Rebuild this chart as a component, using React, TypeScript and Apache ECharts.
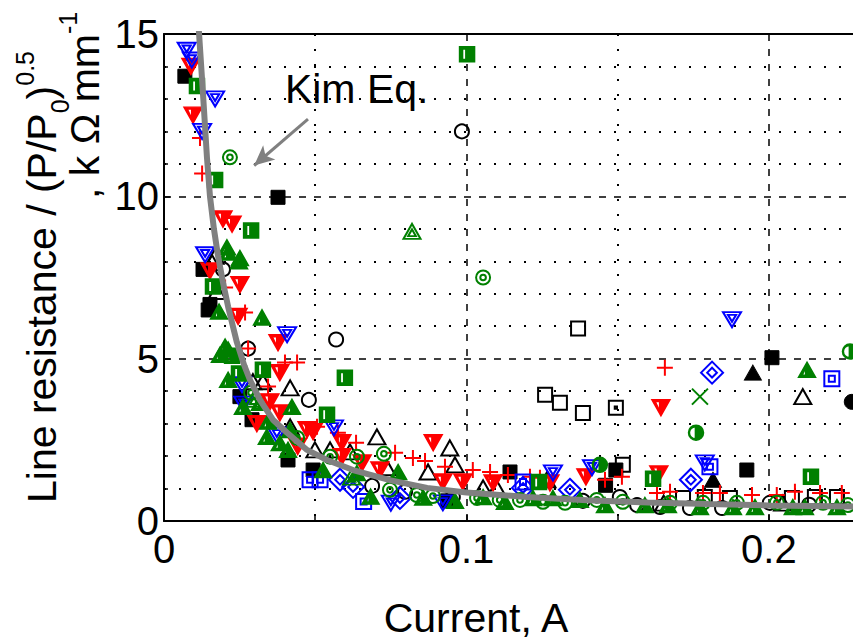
import React, { useEffect, useRef } from 'react';
import * as echarts from 'echarts';

// ---- data (Current [A], Line resistance / (P/P0)^0.5 [kΩ/mm]) ----
const kimCurve: [number, number][] = [
  [0.0112, 15.6], [0.0116, 15], [0.013, 13], [0.0142, 11.2], [0.0152, 10], [0.0165, 9], [0.0178, 8.2],
  [0.0196, 7.3], [0.0212, 6.6], [0.0241, 5.5], [0.0265, 4.8], [0.0284, 4.35], [0.0317, 3.73],
  [0.036, 3.12], [0.0407, 2.72], [0.0473, 2.19], [0.0539, 1.88], [0.0625, 1.57], [0.075, 1.25],
  [0.087, 1.02], [0.1, 0.88], [0.12, 0.74], [0.14, 0.64], [0.16, 0.57], [0.18, 0.52], [0.2, 0.48], [0.23, 0.44],
];

const blackFilledSquares: [number, number][] = [
  [0.0069, 13.7], [0.0377, 9.97], [0.0129, 7.75], [0.0152, 6.67], [0.0146, 6.5], [0.0251, 3.83],
  [0.0291, 3.12], [0.041, 1.88], [0.0493, 1.57], [0.201, 5.03], [0.1494, 1.57], [0.1144, 1.51],
  [0.1927, 1.57], [0.0938, 0.62], [0.146, 1.1],
];
const blackOpenCircles: [number, number][] = [
  [0.0985, 12.0], [0.0195, 7.75], [0.0569, 5.59], [0.0278, 5.31], [0.0479, 3.73], [0.0688, 1.08],
  [0.0797, 0.9], [0.0955, 0.74], [0.1507, 0.74], [0.1564, 0.49], [0.164, 0.43], [0.1739, 0.4],
  [0.1845, 0.4], [0.2003, 0.56], [0.1385, 0.62], [0.2133, 0.5],
];
const blackOpenTriangles: [number, number][] = [
  [0.0169, 8.15], [0.0159, 7.96], [0.0175, 7.07], [0.0294, 4.29], [0.0327, 4.29], [0.0417, 4.1],
  [0.0417, 2.9], [0.0704, 2.59], [0.0945, 2.25], [0.0962, 1.73], [0.0499, 2.19], [0.0549, 2.19],
  [0.0615, 2.13], [0.0737, 1.64], [0.0873, 1.51], [0.1055, 1.02], [0.11, 1.02], [0.1266, 1.27],
  [0.2112, 3.83], [0.1652, 0.55], [0.2045, 0.55],
];
const blackOpenSquares: [number, number][] = [
  [0.1369, 5.93], [0.126, 3.89], [0.1309, 3.64], [0.1385, 3.33], [0.1517, 1.73], [0.1716, 0.71],
  [0.1788, 0.74], [0.1871, 0.71], [0.2076, 0.71], [0.2152, 0.74], [0.2225, 0.74],
];
const blackDotSquares: [number, number][] = [[0.1494, 3.49]];
const blackFilledTriangles: [number, number][] = [[0.1947, 4.57], [0.1815, 1.27]];
const blackFilledCircles: [number, number][] = [[0.2274, 3.67]];

const redPluses: [number, number][] = [
  [0.0119, 11.8], [0.0126, 10.7], [0.0202, 7.19], [0.0268, 6.42], [0.0278, 5.31], [0.04, 4.88],
  [0.044, 4.88], [0.0344, 4.14], [0.0506, 2.9], [0.0575, 2.72], [0.0635, 2.41], [0.0764, 2.1],
  [0.0823, 1.94], [0.0863, 1.85], [0.0929, 1.67], [0.1021, 1.57], [0.1078, 1.51], [0.1656, 4.72],
  [0.1137, 1.42], [0.121, 1.36], [0.1243, 1.33], [0.1458, 1.27], [0.1514, 1.36], [0.163, 0.86],
  [0.1673, 0.9], [0.1782, 0.86], [0.1838, 0.86], [0.1944, 0.8], [0.2026, 0.8], [0.2086, 0.9],
  [0.2169, 0.86], [0.2241, 0.86],
];
const redDownTriangles: [number, number][] = [
  [0.0089, 14.0], [0.0096, 12.5], [0.0195, 9.3], [0.0225, 9.14], [0.0152, 7.7], [0.0251, 7.28],
  [0.0245, 6.3], [0.0377, 5.49], [0.0383, 4.57], [0.035, 3.67], [0.0383, 3.33], [0.0473, 2.81],
  [0.0493, 2.75], [0.0588, 2.41], [0.089, 2.41], [0.0588, 1.98], [0.0655, 1.79], [0.0714, 1.57],
  [0.0922, 1.2], [0.0988, 1.2], [0.1088, 1.17], [0.1643, 3.49], [0.1636, 1.45], [0.1395, 1.36],
  [0.1276, 1.17], [0.0307, 3.0], [0.0442, 2.3],
];

const blueDownTriangles: [number, number][] = [
  [0.0075, 14.5], [0.0092, 14.2], [0.0169, 13.0], [0.0126, 12.0], [0.0136, 8.2], [0.0407, 5.74],
  [0.0258, 4.2], [0.0373, 2.65], [0.0562, 2.87], [0.1878, 6.2], [0.1286, 1.48], [0.1415, 1.64],
  [0.1788, 1.79], [0.075, 0.55], [0.0922, 0.56], [0.0262, 3.6],
];
const blueSquares: [number, number][] = [
  [0.0483, 1.27], [0.0516, 1.27], [0.2208, 4.38], [0.1805, 1.67], [0.1187, 1.2], [0.066, 0.6],
];
const blueDiamonds: [number, number][] = [
  [0.0582, 1.27], [0.0625, 1.05], [0.1812, 4.57], [0.1742, 1.27], [0.1342, 0.96], [0.1187, 1.02], [0.078, 0.71],
];

const greenDoubleCircles: [number, number][] = [
  [0.0218, 11.2], [0.1055, 7.5], [0.0288, 3.95], [0.044, 2.56], [0.0638, 1.98], [0.0727, 2.07],
  [0.0549, 1.98], [0.0747, 0.96], [0.0836, 0.8], [0.0889, 0.77], [0.1035, 0.71], [0.111, 0.65],
  [0.1177, 0.65], [0.1253, 0.59], [0.1326, 0.56], [0.1431, 0.65], [0.1517, 0.59], [0.1673, 0.56],
  [0.1782, 0.56], [0.1894, 0.56], [0.2026, 0.56], [0.2179, 0.56], [0.2261, 0.49],
];
const greenHalfSquares: [number, number][] = [
  [0.1002, 14.38], [0.0109, 13.4], [0.0169, 10.5], [0.0288, 8.95], [0.0162, 7.22], [0.0225, 5.09],
  [0.0327, 4.66], [0.0598, 4.41], [0.0248, 4.54], [0.0539, 3.27], [0.1617, 1.3], [0.2139, 1.36], [0.124, 1.2],
];
const greenHalfTriangles: [number, number][] = [
  [0.0208, 8.43], [0.0251, 8.1], [0.0248, 8.0], [0.0212, 8.27], [0.0182, 6.45], [0.0324, 6.27],
  [0.0202, 5.37], [0.0185, 5.12], [0.0212, 5.28], [0.0212, 4.35], [0.0261, 3.52], [0.0317, 3.64],
  [0.0423, 3.52], [0.0344, 3.06], [0.034, 2.59], [0.0383, 2.4], [0.0417, 2.8], [0.041, 2.19],
  [0.0526, 1.57], [0.0638, 1.48], [0.0774, 1.51], [0.1055, 0.74], [0.1127, 0.59], [0.122, 0.71],
  [0.1286, 0.71], [0.1375, 0.65], [0.1458, 0.49], [0.159, 0.49], [0.1666, 0.49], [0.1772, 0.43],
  [0.1881, 0.43], [0.1954, 0.43], [0.2079, 0.43], [0.2119, 0.43], [0.2225, 0.43], [0.2126, 4.66],
  [0.0683, 0.75], [0.0857, 0.72], [0.0962, 0.62],
];
const greenDoubleTriangles: [number, number][] = [[0.082, 8.92], [0.0195, 5.2], [0.0297, 3.75], [0.062, 1.35]];
const greenCrosses: [number, number][] = [[0.1772, 3.83]];
const greenHalfCircles: [number, number][] = [[0.2268, 5.22], [0.1759, 2.72], [0.1441, 1.73]];

const kimLabelAt: [number, number] = [0.0398, 13.3];
const kimArrowFrom: [number, number] = [0.0476, 12.38];
const kimArrowTo: [number, number] = [0.0298, 10.95];

const xTickLabels = ['0', '0.1', '0.2'];
const X_MAX = 0.2278; // right edge of the visible plot

// ---- marker shapes ----
const P_TRI_DOWN_HALF = 'path://M0 0 L10 0 L5 10 Z M1.8 1.2 L4.3 7.2 L4.3 1.2 Z';
const P_TRI_UP_HALF = 'path://M5 0 L10 10 L0 10 Z M4.2 3.5 L2.2 8.6 L4.2 8.6 Z';
const P_SQ_HALF = 'path://M0 0 L10 0 L10 10 L0 10 Z M2 1.5 L2 8.5 L4.2 8.5 L4.2 1.5 Z';
const P_CIRC_HALF = 'path://M5 0 A5 5 0 1 1 5 10 A5 5 0 1 1 5 0 Z M4.6 9 L4.6 1 A4 4 0 0 0 4.6 9 Z';
const P_DBL_TRI_DOWN = 'path://M0 0 L10 0 L5 10 Z M2.75 1.83 L7.25 1.83 L5 6.33 Z';
const P_DBL_TRI_UP = 'path://M5 0 L10 10 L0 10 Z M5 3.67 L7.25 8.17 L2.75 8.17 Z';
const P_DBL_SQ = 'path://M0 0 L10 0 L10 10 L0 10 Z M3 3 L7 3 L7 7 L3 7 Z';
const P_DBL_DIAMOND = 'path://M5 0 L10 5 L5 10 L0 5 Z M5 2.8 L7.2 5 L5 7.2 L2.8 5 Z';
const P_DBL_CIRC = 'path://M5 0 A5 5 0 1 1 5 10 A5 5 0 1 1 5 0 Z M5 3 A2 2 0 1 1 5 7 A2 2 0 1 1 5 3 Z';
const P_SQ_DOT = 'path://M0 0 L10 0 L10 10 L0 10 Z M4.2 4.2 L5.8 4.2 L5.8 5.8 L4.2 5.8 Z';
const P_PLUS = 'path://M5 0 L5 10 M0 5 L10 5';
const P_CROSS = 'path://M0 0 L10 10 M10 0 L0 10';

const BLACK = '#000000';
const RED = '#ff0000';
const BLUE = '#0000ff';
const GREEN = '#008000';
const GRAY = '#808080';
const CLEAR = 'rgba(0,0,0,0)';
const FONT = 'Arial, "Liberation Sans", Helvetica, sans-serif';

function scatter(name: string, data: [number, number][], symbol: string, size: number | number[], color: string, filled: boolean, bw = 2) {
  return {
    type: 'scatter',
    name,
    data,
    symbol,
    symbolSize: size,
    silent: true,
    xAxisIndex: 0,
    yAxisIndex: 0,
    itemStyle: { color: filled ? color : CLEAR, borderColor: color, borderWidth: bw, opacity: 1 },
    z: 3,
  };
}

export default function App() {
  const ref = useRef<HTMLDivElement>(null);
  useEffect(() => {
    if (!ref.current) return;
    const chart = echarts.init(ref.current, null, { renderer: 'svg' });
    const option: any = {
      animation: false,
      backgroundColor: '#ffffff',
      grid: { left: 164, top: 34, right: 0, bottom: 121, show: false },
      xAxis: [
        {
          // bottom axis: ticks every 0.05, labels at 0.1 steps, dotted lines at the half steps
          type: 'value', min: 0, max: X_MAX, interval: 0.05, position: 'bottom',
          axisLine: { show: true, onZero: false, lineStyle: { color: BLACK, width: 2 } },
          axisTick: { show: true, inside: true, length: 6, lineStyle: { color: BLACK, width: 1.5 } },
          splitLine: {
            show: true,
            lineStyle: { color: [CLEAR, BLACK, CLEAR, BLACK, CLEAR, CLEAR], width: 2, type: [2, 13] },
          },
          axisLabel: {
            fontSize: 40, fontFamily: FONT, color: BLACK, margin: 8, showMaxLabel: false,
            formatter: (v: number) => {
              const k = Math.round(v * 10);
              return Math.abs(v * 10 - k) < 1e-6 ? (xTickLabels[k] ?? '') : '';
            },
          },
        },
        {
          // top axis: the top border and the dashed major grid lines
          type: 'value', min: 0, max: X_MAX, interval: 0.1, position: 'top',
          axisLine: { show: true, onZero: false, lineStyle: { color: BLACK, width: 2 } },
          axisTick: { show: false },
          axisLabel: { show: false },
          splitLine: { show: true, lineStyle: { color: [BLACK, BLACK, BLACK, CLEAR], width: 1.5, type: [7, 8] } },
        },
      ],
      yAxis: {
        type: 'value', min: 0, max: 15, interval: 5,
        axisLine: { show: true, onZero: false, lineStyle: { color: BLACK, width: 2 } },
        axisTick: { show: true, inside: true, length: 6, lineStyle: { color: BLACK, width: 1.5 } },
        minorTick: { show: true, splitNumber: 5, length: 4, lineStyle: { color: BLACK, width: 1.5 } },
        splitLine: { show: true, lineStyle: { color: BLACK, width: 1.5, type: [7, 8] } },
        minorSplitLine: { show: true, lineStyle: { color: BLACK, width: 2, type: [2, 13] } },
        axisLabel: { fontSize: 40, fontFamily: FONT, color: BLACK, margin: 5 },
      },
      series: [
        scatter('black filled square', blackFilledSquares, 'rect', 14, BLACK, true, 1),
        scatter('black circle', blackOpenCircles, 'circle', 14, BLACK, false),
        scatter('black triangle', blackOpenTriangles, 'triangle', [17, 15], BLACK, false),
        scatter('black square', blackOpenSquares, 'rect', 14, BLACK, false),
        scatter('black dotted square', blackDotSquares, P_SQ_DOT, 14, BLACK, false),
        scatter('black filled triangle', blackFilledTriangles, 'triangle', [17, 15], BLACK, true, 1),
        scatter('black filled circle', blackFilledCircles, 'circle', 15, BLACK, true, 1),
        scatter('red plus', redPluses, P_PLUS, 16, RED, false, 2),
        scatter('red triangle', redDownTriangles, P_TRI_DOWN_HALF, [18, 16], RED, true, 1.5),
        scatter('blue triangle', blueDownTriangles, P_DBL_TRI_DOWN, [18, 15], BLUE, false, 2),
        scatter('blue square', blueSquares, P_DBL_SQ, 15, BLUE, false, 2),
        scatter('blue diamond', blueDiamonds, P_DBL_DIAMOND, [22, 22], BLUE, false, 2),
        scatter('green circle', greenDoubleCircles, P_DBL_CIRC, 14, GREEN, false, 2),
        scatter('green square', greenHalfSquares, P_SQ_HALF, 15, GREEN, true, 1.5),
        scatter('green triangle', greenHalfTriangles, P_TRI_UP_HALF, [17, 15], GREEN, true, 1.5),
        scatter('green double triangle', greenDoubleTriangles, P_DBL_TRI_UP, [17, 15], GREEN, false, 2),
        scatter('green cross', greenCrosses, P_CROSS, 16, GREEN, false, 2),
        scatter('green half circle', greenHalfCircles, P_CIRC_HALF, 15, GREEN, true, 1.5),
        {
          type: 'line',
          name: 'Kim Eq.',
          data: kimCurve,
          xAxisIndex: 0,
          yAxisIndex: 0,
          showSymbol: false,
          symbol: 'none',
          smooth: false,
          silent: true,
          z: 5,
          lineStyle: { color: GRAY, width: 6 },
          markLine: {
            silent: true,
            symbol: ['none', 'arrow'],
            symbolSize: [14, 20],
            label: { show: false },
            lineStyle: { color: GRAY, width: 3, type: 'solid' },
            data: [[{ coord: kimArrowFrom }, { coord: kimArrowTo }]],
          },
          markPoint: {
            silent: true,
            symbol: 'circle',
            symbolSize: 1,
            itemStyle: { color: CLEAR },
            label: {
              show: true, position: 'right', distance: 0, formatter: 'Kim Eq.',
              fontSize: 41, fontFamily: FONT, color: BLACK,
            },
            data: [{ coord: kimLabelAt }],
          },
        },
      ],
      graphic: [
        {
          type: 'text', x: 476, y: 618, silent: true,
          style: {
            text: 'Current, A', fontSize: 41, fontFamily: FONT, fill: BLACK,
            align: 'center', verticalAlign: 'middle', textAlign: 'center', textVerticalAlign: 'middle',
          },
        },
        {
          type: 'text', x: 42, y: 503, rotation: Math.PI / 2, silent: true,
          style: {
            text: '{m|Line resistance / (P/P}{sub|0}{m|)}{sup|0.5}',
            fontSize: 41, fontFamily: FONT, fill: BLACK,
            align: 'left', verticalAlign: 'middle', textAlign: 'left', textVerticalAlign: 'middle',
            rich: {
              m: { fontSize: 41, fontFamily: FONT, fill: BLACK, color: BLACK, lineHeight: 60, verticalAlign: 'middle' },
              sub: { fontSize: 25, fontFamily: FONT, fill: BLACK, color: BLACK, lineHeight: 40, verticalAlign: 'bottom' },
              sup: { fontSize: 25, fontFamily: FONT, fill: BLACK, color: BLACK, lineHeight: 25, verticalAlign: 'top' },
            },
          },
        },
        {
          type: 'text', x: 85, y: 199, rotation: Math.PI / 2, silent: true,
          style: {
            text: '{m|, k \u03A9 mm}{sup|-1}',
            fontSize: 41, fontFamily: FONT, fill: BLACK,
            align: 'left', verticalAlign: 'middle', textAlign: 'left', textVerticalAlign: 'middle',
            rich: {
              m: { fontSize: 41, fontFamily: FONT, fill: BLACK, color: BLACK, lineHeight: 60, verticalAlign: 'middle' },
              sup: { fontSize: 25, fontFamily: FONT, fill: BLACK, color: BLACK, lineHeight: 25, verticalAlign: 'top' },
            },
          },
        },
      ],
    };
    chart.setOption(option);
    return () => chart.dispose();
  }, []);
  return <div ref={ref} style={{ position: 'fixed', left: 0, top: 0, width: 853, height: 642, background: '#fff' }} />;
}
